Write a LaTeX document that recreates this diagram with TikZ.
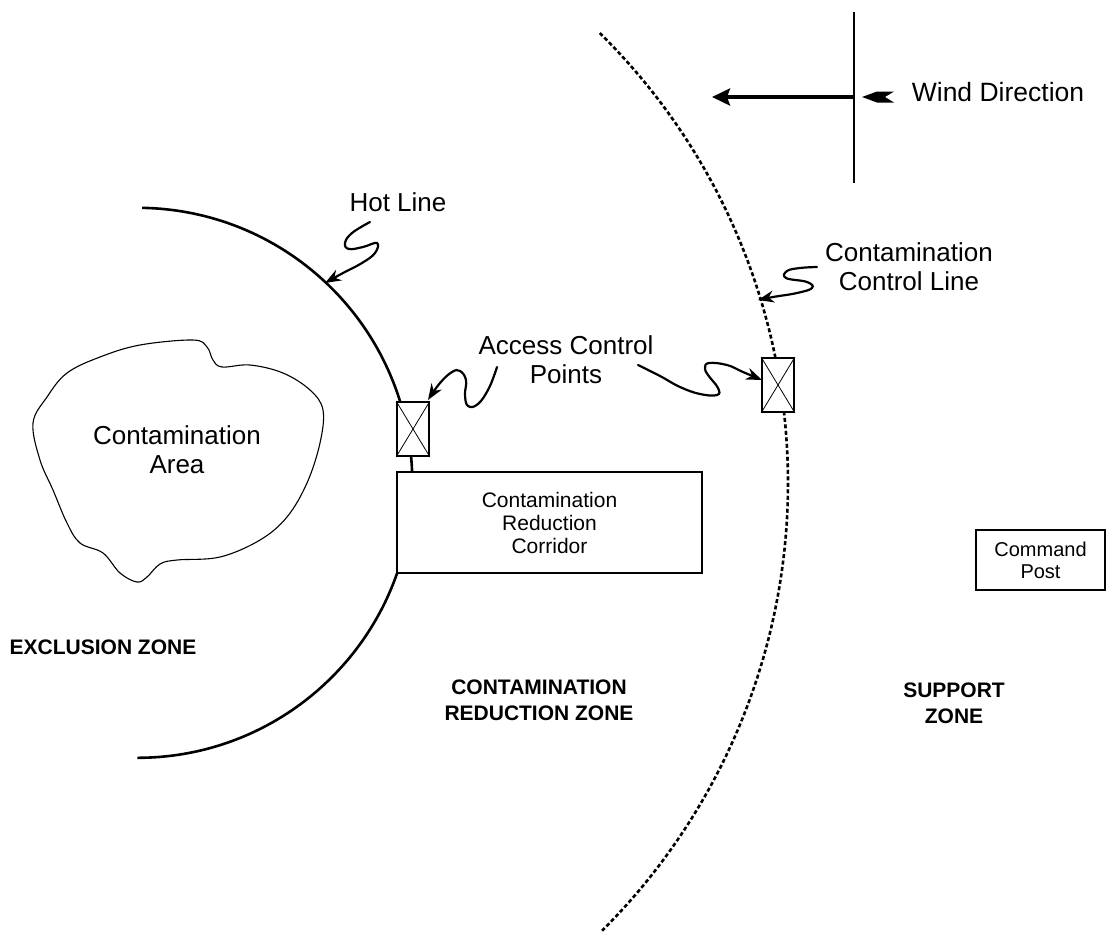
\documentclass[tikz,border=0pt]{standalone}
\usepackage{fontspec}
\setmainfont{Liberation Sans}
\usetikzlibrary{arrows.meta}

\tikzset{
  lbl/.style={font=\fontsize{26}{29}\selectfont, align=center, inner sep=0pt},
  zone/.style={font=\bfseries\fontsize{21}{26}\selectfont, align=center, inner sep=0pt},
  boxtext/.style={font=\fontsize{21}{23}\selectfont, align=center, inner sep=0pt},
  hotline/.style={line width=2.6pt},
  ctrlline/.style={line width=2.6pt, dash pattern=on 4pt off 2.5pt},
  pointer/.style={line width=2.2pt, line cap=round, -{Stealth[length=16pt,width=12pt]}},
  acp/.style={draw, line width=1.8pt, fill=white, minimum width=32pt, minimum height=54pt, inner sep=0pt},
  cross/.style={line width=0.8pt},
}

\begin{document}
\begin{tikzpicture}[x=1pt, y=-1pt]
  \useasboundingbox (0,0) rectangle (1107,935);
  \fill[white] (0,0) rectangle (1107,935);

  % contamination area outline
  \draw[line width=1.1pt] plot[smooth cycle, tension=0.6] coordinates {
    (33,423) (47,397) (67,373) (100,357) (140,345) (193,340) (207,347)
    (213,360) (222,367) (250,365) (283,373) (310,390) (323,410) (320,443)
    (307,483) (287,517) (260,540) (220,557) (177,560) (160,564) (147,577)
    (137,582) (120,573) (103,553) (80,543) (67,523) (53,490) (40,460)};
  \node[lbl] (ca) at (177,450) {Contamination\\Area};

  % hot line: one circular arc, partly covered by the boxes
  \coordinate (hc) at (137.3,482.8);
  \draw[hotline] (hc) ++(-89:275) arc[start angle=-89, end angle=90, radius=275];

  % contamination control line
  \coordinate (cc) at (156,483);
  \draw[ctrlline] (cc) ++(-45.4:632) arc[start angle=-45.4, end angle=45.1, radius=632];

  % access control points and corridor
  \node[acp] (acp1) at (413,429) {};
  \draw[cross] (acp1.north west) -- (acp1.south east) (acp1.north east) -- (acp1.south west);
  \node[acp] (acp2) at (778,385) {};
  \draw[cross] (acp2.north west) -- (acp2.south east) (acp2.north east) -- (acp2.south west);

  \node[draw, line width=2pt, fill=white, minimum width=305pt, minimum height=101pt, boxtext]
    (crc) at (549.5,522.5) {Contamination\\Reduction\\Corridor};

  \node[draw, line width=1.2pt, minimum width=129pt, minimum height=60pt, boxtext,
    font=\fontsize{20}{22}\selectfont] (cp) at (1040.5,560) {Command\\Post};

  % labels
  \node[lbl] (hot) at (398,202) {Hot Line};
  \node[lbl] (acplbl) at (566,360) {Access Control\\Points};
  \node[lbl] (ccl) at (909,267) {Contamination\\Control Line};

  % leaders
  \draw[pointer] plot[smooth, tension=0.7] coordinates {
    (370,222) (352,233) (345,243) (349,249) (363,247) (377,243) (375,253)
    (362,263) (343,273) (325,283)};
  \draw[pointer] plot[smooth, tension=0.7] coordinates {
    (497,367) (489,388) (478,404) (468,406) (465,395) (466,380) (460,371)
    (452,372) (440,383) (428,400)};
  \draw[pointer] plot[smooth, tension=0.7] coordinates {
    (638,365) (660,376) (680,387) (700,394) (717,395) (718,388) (708,375)
    (705,368) (709,363) (727,365) (743,372) (762,380)};
  \draw[pointer] plot[smooth, tension=0.7] coordinates {
    (817,267) (800,268) (787,271) (786,278) (807,282) (812,288) (797,293)
    (773,297) (758,300)};

  % wind direction
  \coordinate (wtop) at (854,12);
  \coordinate (wbot) at (854,183);
  \coordinate (wtail) at (854,97);
  \coordinate (whead) at (712,97);
  \draw[line width=1.2pt] (wtop) -- (wbot);
  \draw[line width=3.5pt, -{Stealth[length=18pt,width=17pt,inset=3pt]}] (wtail) -- (whead);
  \fill (862,97) -- (877,91.5) -- (894,91.5) -- (885,97) -- (894,102.5) -- (877,102.5) -- cycle;
  \node[lbl, font=\fontsize{26.5}{29}\selectfont] (wind) at (998,92) {Wind Direction};

  % zones
  \node[zone] (ez) at (103,647) {EXCLUSION ZONE};
  \node[zone] (crz) at (539,700) {CONTAMINATION\\REDUCTION ZONE};
  \node[zone] (sz) at (954,703) {SUPPORT\\ZONE};
\end{tikzpicture}
\end{document}
